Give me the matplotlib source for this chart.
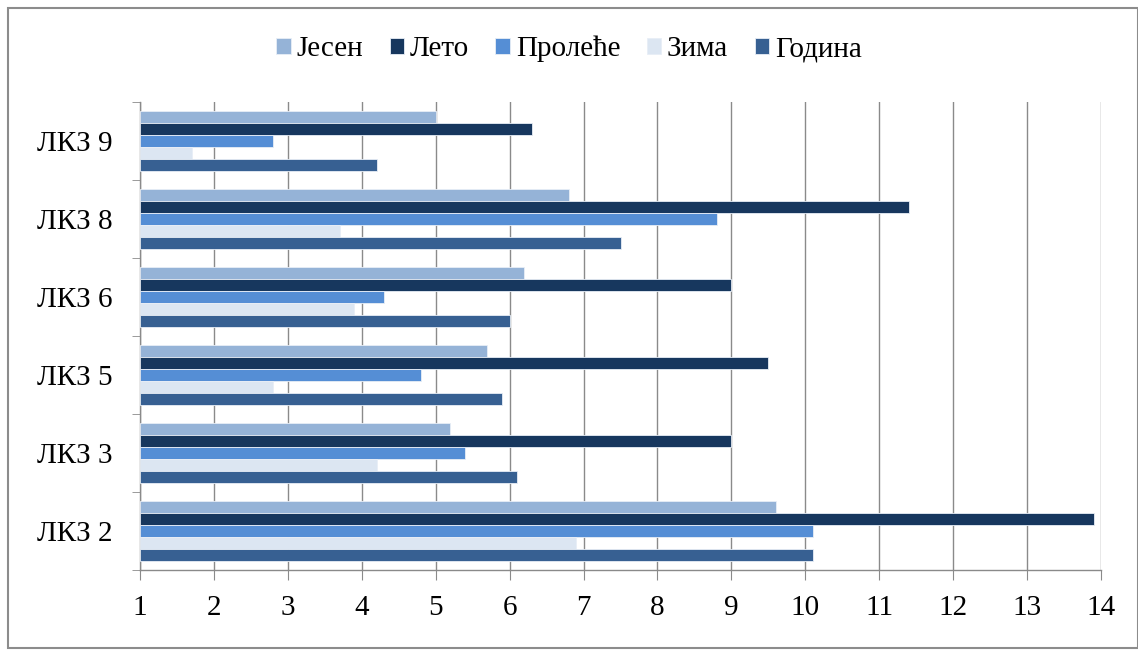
import matplotlib
matplotlib.use("Agg")
import matplotlib.pyplot as plt
import numpy as np
from matplotlib.patches import Rectangle

categories = ["ЛКЗ 2", "ЛКЗ 3", "ЛКЗ 5", "ЛКЗ 6", "ЛКЗ 8", "ЛКЗ 9"]
series_names = ["Јесен", "Лето", "Пролеће", "Зима", "Година"]
jesen   = [9.6, 5.2, 5.7, 6.2, 6.8, 5.0]
leto    = [13.9, 9.0, 9.5, 9.0, 11.4, 6.3]
prolece = [10.1, 5.4, 4.8, 4.3, 8.8, 2.8]
zima    = [6.9, 4.2, 2.8, 3.9, 3.7, 1.7]
godina  = [10.1, 6.1, 5.9, 6.0, 7.5, 4.2]
x_ticks = list(range(1, 15))

series = [jesen, leto, prolece, zima, godina]
colors = ["#95B3D7", "#17375E", "#558ED5", "#DCE6F2", "#376092"]

plt.rcParams['font.family'] = ['Liberation Serif', 'DejaVu Serif']

fig = plt.figure(figsize=(11.38, 6.51), dpi=100)
fig.patches.append(Rectangle((8/1138, 3/651), 1 - 8/1138, 1 - 11/651,
                             transform=fig.transFigure, fill=False,
                             edgecolor="#8c8c8c", linewidth=1.5))
ax = fig.add_axes([140/1138, 1 - 570/651, (1101-140)/1138, (570-102)/651])

y = np.arange(len(categories))
h = 0.154
for i, (name, vals, c) in enumerate(zip(series_names, series, colors)):
    offs = (2 - i) * h
    widths = [v - 1 for v in vals]
    ax.barh(y + offs, widths, left=1, height=h, color=c, label=name,
            edgecolor="#e8eef6", linewidth=0.6, zorder=3)

ax.set_xlim(1, 14)
ax.set_ylim(-0.5, 5.5)
ax.set_xticks(x_ticks)
ax.set_xticklabels([str(t) for t in x_ticks], fontsize=21)
ax.xaxis.grid(True, color="#8a8a8a", linewidth=1.0, zorder=0)
ax.set_axisbelow(True)

ax.set_yticks(y)
ax.set_yticklabels(categories, fontsize=21)
ax.set_yticks(np.arange(-0.5, 6, 1), minor=True)
ax.tick_params(axis='y', which='major', length=0, pad=20)
ax.tick_params(axis='y', which='minor', length=6, color="#8a8a8a", direction='out')
ax.tick_params(axis='x', length=7, color="#8a8a8a", direction='out', pad=11)

for s in ["top", "right"]:
    ax.spines[s].set_visible(False)
for s in ["left", "bottom"]:
    ax.spines[s].set_color("#8a8a8a")
    ax.spines[s].set_linewidth(1.0)

leg = fig.legend(loc="center", bbox_to_anchor=(0.5, 1 - 49/651), ncol=5,
                 frameon=False, fontsize=21, handlelength=0.5, handleheight=0.5,
                 handletextpad=0.2, columnspacing=0.9)

fig.savefig("out.png", dpi=100)
